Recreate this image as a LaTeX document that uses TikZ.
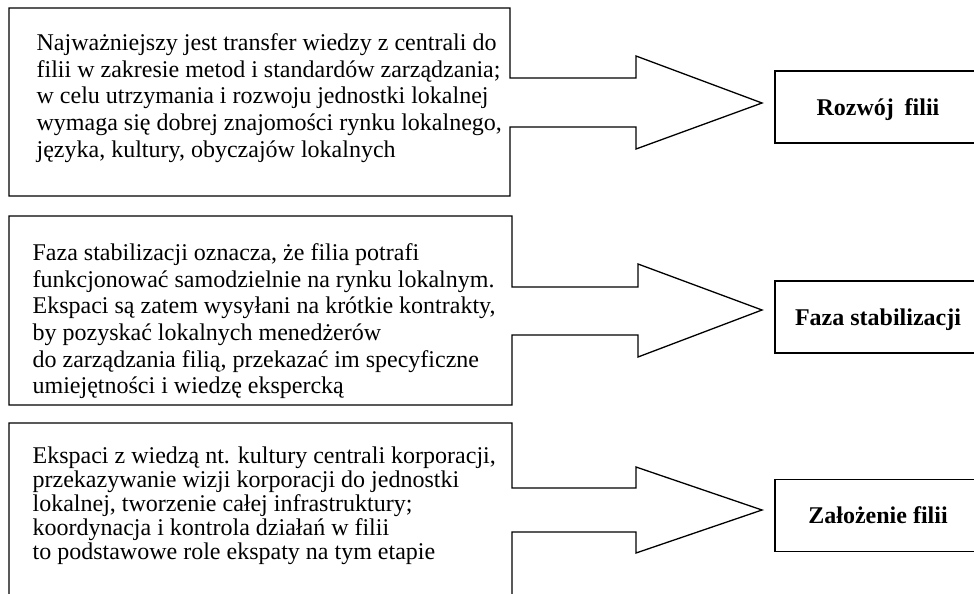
\documentclass[tikz,border=0pt]{standalone}
\usepackage{fontspec}
\setmainfont{Liberation Serif}
\begin{document}
\begin{tikzpicture}[x=1pt,y=-1pt, line width=1.3pt, line join=miter,
  body/.style={anchor=north west, align=left, inner sep=0pt},
  bodyA/.style={body, font=\fontsize{24}{26.6}\selectfont},
  bodyB/.style={body, font=\fontsize{24}{24}\selectfont},
  lbl/.style={draw, rectangle, minimum width=206pt, minimum height=72pt, inner sep=0pt,
    text height=16pt, text depth=0pt, font=\fontsize{24}{28}\selectfont\bfseries},
  blockarrow/.style={draw, line width=1.3pt}]
\useasboundingbox (0,0) rectangle (974,594);
\clip (0,0) rectangle (974,594);

% block 1
\draw[blockarrow] (9,8) -- (510,8) -- (510,78) -- (636,78) -- (636,56) -- (762,103)
  -- (636,149) -- (636,127) -- (510,127) -- (510,196) -- (9,196) -- cycle;
\node[bodyA] (t1) at (36,32) {\rule{0pt}{18pt}Najważniejszy jest transfer wiedzy z centrali do\\
filii w zakresie metod i standardów zarządzania;\\
w celu utrzymania i rozwoju jednostki lokalnej\\
wymaga się dobrej znajomości rynku lokalnego,\\
języka, kultury, obyczajów lokalnych};
\node[lbl] (b1) at (878,107) {Rozwój\hspace{0.45em}filii};

% block 2
\draw[blockarrow] (9,216) -- (512,216) -- (512,287) -- (638,287) -- (638,264) -- (762,310)
  -- (638,357) -- (638,335) -- (512,335) -- (512,405) -- (9,405) -- cycle;
\node[bodyA] (t2) at (32,242) {\rule{0pt}{18pt}Faza stabilizacji oznacza, że filia potrafi\\
funkcjonować samodzielnie na rynku lokalnym.\\
Ekspaci są zatem wysyłani na krótkie kontrakty,\\
by pozyskać lokalnych menedżerów\\
do zarządzania filią, przekazać im specyficzne\\
umiejętności i wiedzę ekspercką};
\node[lbl] (b2) at (878,317) {Faza stabilizacji};

% block 3
\draw[blockarrow] (9,600) -- (9,423) -- (512,423) -- (512,488) -- (636,488) -- (636,467)
  -- (762,510) -- (636,553) -- (636,532) -- (512,532) -- (512,600);
\node[bodyB] (t3) at (32,445) {\rule{0pt}{18pt}Ekspaci z wiedzą nt. kultury centrali korporacji,\\
przekazywanie wizji korporacji do jednostki\\
lokalnej, tworzenie całej infrastruktury;\\
koordynacja i kontrola działań w filii\\
to podstawowe role ekspaty na tym etapie};
\node[lbl] (b3) at (878,515.5) {Założenie filii};
\end{tikzpicture}
\end{document}
